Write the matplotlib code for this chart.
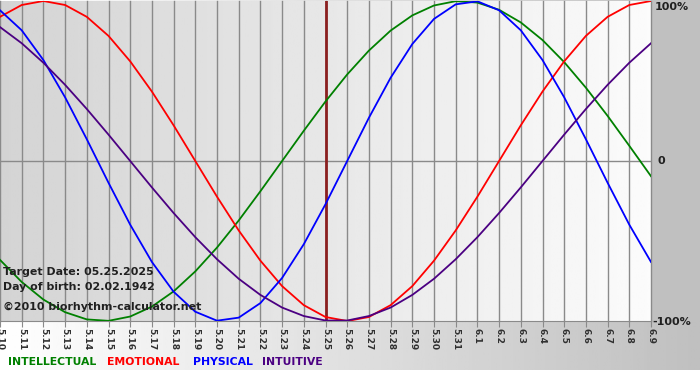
import matplotlib.pyplot as plt
import numpy as np

# даты по оси X
dates = ['5.10', '5.11', '5.12', '5.13', '5.14', '5.15', '5.16', '5.17', '5.18', '5.19',
         '5.20', '5.21', '5.22', '5.23', '5.24', '5.25', '5.26', '5.27', '5.28', '5.29',
         '5.30', '5.31', '6.1', '6.2', '6.3', '6.4', '6.5', '6.6', '6.7', '6.8', '6.9']

# значения биоритмов (доли от 100%)
intellectual = [-0.618, -0.756, -0.866, -0.945, -0.990, -0.999, -0.972, -0.910, -0.815, -0.690,
                -0.541, -0.372, -0.189, 0.0, 0.189, 0.372, 0.541, 0.690, 0.815, 0.910,
                0.972, 0.999, 0.990, 0.945, 0.866, 0.756, 0.618, 0.458, 0.282, 0.095, -0.095]
emotional = [0.901, 0.975, 1.0, 0.975, 0.901, 0.782, 0.623, 0.434, 0.223, 0.0,
             -0.223, -0.434, -0.623, -0.782, -0.901, -0.975, -1.0, -0.975, -0.901, -0.782,
             -0.623, -0.434, -0.223, 0.0, 0.223, 0.434, 0.623, 0.782, 0.901, 0.975, 1.0]
physical = [0.942, 0.817, 0.631, 0.398, 0.136, -0.136, -0.398, -0.631, -0.817, -0.942,
            -0.998, -0.979, -0.888, -0.731, -0.520, -0.270, 0.0, 0.270, 0.520, 0.731,
            0.888, 0.979, 0.998, 0.942, 0.817, 0.631, 0.398, 0.136, -0.136, -0.398, -0.631]
intuitive = [0.837, 0.736, 0.614, 0.476, 0.325, 0.165, 0.0, -0.165, -0.325, -0.476,
             -0.614, -0.736, -0.837, -0.916, -0.969, -0.997, -0.997, -0.969, -0.916, -0.837,
             -0.736, -0.614, -0.476, -0.325, -0.165, 0.0, 0.165, 0.325, 0.476, 0.614, 0.736]

target_idx = 15
info_lines = ['Target Date: 05.25.2025', 'Day of birth: 02.02.1942', '\u00a92010 biorhythm-calculator.net']
legend_names = ['INTELLECTUAL', 'EMOTIONAL', 'PHYSICAL', 'INTUITIVE']

colors = {'INTELLECTUAL': '#008000', 'EMOTIONAL': '#ff0000',
          'PHYSICAL': '#0000ff', 'INTUITIVE': '#4b0082'}

W, H = 700, 380
fig = plt.figure(figsize=(7, 3.8), dpi=100)

# фон всей картинки
bg = fig.add_axes([0, 0, 1, 1], zorder=0)
bg.set_xlim(0, W)
bg.set_ylim(H, 0)
bg.axis('off')
grad = np.linspace(1.0, 0.75, 256).reshape(1, -1)
bg.imshow(grad, cmap='gray', vmin=0, vmax=1, extent=(0, W, 370, 0), aspect='auto')
bg.add_patch(plt.Rectangle((651, 0), 49, 321, color='#c0c0c0', lw=0))

# область графика
ax = fig.add_axes([0, (H - 321) / H, 651 / W, 320 / H], zorder=1)
ax.patch.set_alpha(0)
x = np.arange(len(dates))
ax.set_xlim(0, 30)
ax.set_ylim(-1.0, 1.0)
pgrad = np.linspace(0.83, 0.985, 256).reshape(1, -1)
ax.imshow(pgrad, cmap='gray', vmin=0, vmax=1, extent=(0, 30, -1, 1), aspect='auto', zorder=0)

for xi in x:
    ax.axvline(xi, color='#8a8a8a', lw=1, zorder=1, clip_on=False)
ax.axhline(0, color='#8a8a8a', lw=1, zorder=1)
ax.axvline(target_idx, color='#8b2020', lw=2, zorder=2)

ax.plot(x, intellectual, color=colors['INTELLECTUAL'], lw=1.3, zorder=3)
ax.plot(x, emotional, color=colors['EMOTIONAL'], lw=1.3, zorder=3)
ax.plot(x, physical, color=colors['PHYSICAL'], lw=1.3, zorder=3)
ax.plot(x, intuitive, color=colors['INTUITIVE'], lw=1.3, zorder=3)

for s in ['top', 'left', 'right']:
    ax.spines[s].set_visible(False)
ax.spines['bottom'].set_color('#8a8a8a')
ax.set_yticks([])
ax.set_xticks(x)
ax.set_xticklabels(dates, rotation=-90, fontsize=6.5, fontweight='bold', color='#303030')
ax.tick_params(axis='x', length=4, color='#8a8a8a', pad=1)

# подписи
def ftext(px, py, s, **kw):
    fig.text(px / W, 1 - py / H, s, **kw)

for i, line in enumerate(info_lines):
    ftext(3, [272, 287, 307][i], line, fontsize=7.9, fontweight='bold', color='#202020',
          va='center', zorder=5)

ftext(655, 7, '100%', fontsize=8, fontweight='bold', color='#202020', va='center')
ftext(658, 161, '0', fontsize=8, fontweight='bold', color='#202020', va='center')
ftext(652, 322, '-100%', fontsize=8, fontweight='bold', color='#202020', va='center')

for name, px in zip(legend_names, [8, 107, 193, 262]):
    ftext(px, 362, name, fontsize=7.8, fontweight='bold', color=colors[name], va='center')

plt.savefig('out.png', dpi=100)
